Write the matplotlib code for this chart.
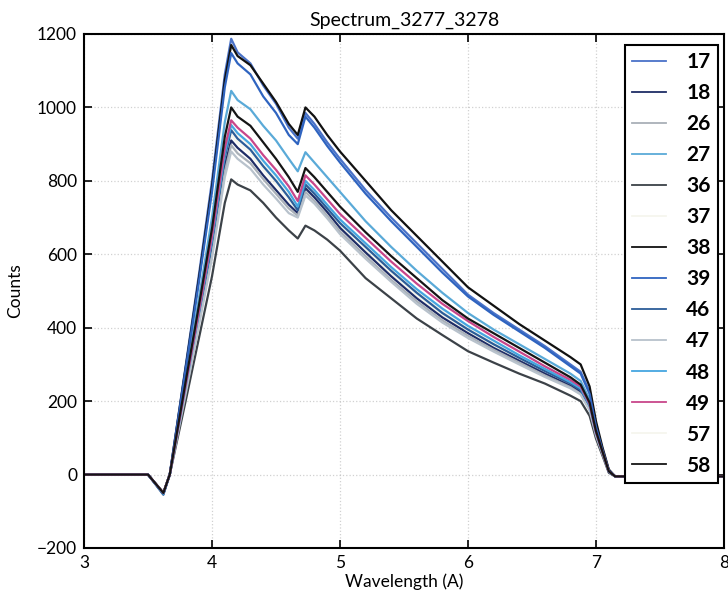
import matplotlib
matplotlib.use("Agg")
import matplotlib.pyplot as plt

plt.rcParams['font.family'] = ['Lato', 'DejaVu Sans']

title = "Spectrum_3277_3278"
x_label = "Wavelength (A)"
y_label = "Counts"

wavelength = [3.0, 3.5, 3.62, 3.67, 3.8, 3.9, 4.0, 4.1, 4.15, 4.2, 4.3, 4.4, 4.5, 4.6,
              4.67, 4.73, 4.8, 4.9, 5.0, 5.2, 5.4, 5.6, 5.8, 6.0, 6.2, 6.4, 6.6, 6.8,
              6.88, 6.95, 7.0, 7.05, 7.1, 7.15, 8.0]

labels = ["17", "18", "26", "27", "36", "37", "38", "39", "46", "47", "48", "49", "57", "58"]

s17 = [0, 0, -52, 0, 310, 550, 800, 1090, 1187, 1150, 1120, 1060, 1010, 945, 915, 985, 955, 905, 860,
       775, 700, 630, 560, 490, 440, 395, 350, 300, 280, 225, 135, 70, 12, -5, -5]
s18 = [0, 0, -52, 0, 240, 425, 610, 840, 910, 890, 860, 815, 775, 735, 712, 780, 755, 715, 672,
       605, 540, 480, 428, 385, 345, 310, 275, 242, 225, 180, 110, 60, 8, -5, -5]
s26 = [0, 0, -50, 0, 235, 418, 600, 825, 897, 875, 848, 805, 765, 725, 705, 770, 745, 705, 662,
       595, 530, 472, 420, 378, 340, 305, 270, 238, 220, 178, 108, 58, 8, -5, -5]
s27 = [0, 0, -50, 0, 275, 485, 700, 960, 1045, 1020, 995, 950, 910, 860, 826, 878, 850, 810, 770,
       690, 620, 555, 495, 440, 395, 355, 315, 275, 255, 205, 122, 65, 10, -5, -5]
s36 = [0, 0, -50, 0, 210, 375, 540, 740, 804, 790, 774, 740, 700, 665, 643, 678, 665, 640, 610,
       535, 480, 425, 380, 336, 305, 275, 248, 215, 200, 160, 98, 52, 5, -5, -5]
s37 = [0, 0, -50, 0, 250, 440, 635, 870, 945, 925, 895, 850, 810, 765, 725, 795, 770, 730, 690,
       625, 560, 500, 446, 400, 360, 322, 285, 250, 232, 186, 112, 60, 8, -5, -5]
s38 = [0, 0, -50, 0, 305, 540, 785, 1075, 1170, 1140, 1115, 1065, 1015, 955, 925, 1000, 975, 925, 880,
       800, 720, 650, 580, 510, 460, 410, 365, 320, 300, 240, 145, 75, 14, -5, -5]
s39 = [0, 0, -52, 0, 300, 530, 770, 1055, 1148, 1120, 1090, 1030, 985, 925, 900, 975, 945, 895, 850,
       765, 690, 620, 550, 485, 435, 390, 345, 295, 275, 220, 130, 68, 11, -5, -5]
s46 = [0, 0, -55, 0, 245, 440, 630, 865, 938, 915, 885, 840, 800, 755, 720, 790, 765, 725, 685,
       620, 555, 495, 440, 395, 355, 318, 282, 248, 230, 184, 111, 60, 8, -5, -5]
s47 = [0, 0, -50, 0, 230, 410, 590, 810, 880, 860, 833, 790, 752, 712, 700, 760, 738, 698, 655,
       588, 525, 465, 414, 372, 335, 300, 266, 235, 218, 175, 106, 57, 8, -5, -5]
s48 = [0, 0, -52, 0, 250, 445, 640, 875, 952, 930, 900, 855, 815, 770, 730, 800, 775, 735, 695,
       630, 565, 505, 452, 405, 365, 325, 288, 252, 235, 188, 113, 61, 8, -5, -5]
s49 = [0, 0, -50, 0, 255, 450, 650, 890, 965, 945, 915, 870, 830, 785, 745, 815, 790, 750, 710,
       645, 580, 520, 465, 418, 375, 335, 295, 258, 240, 192, 115, 62, 9, -5, -5]
s57 = [0, 0, -50, 0, 240, 430, 620, 850, 925, 905, 875, 830, 790, 748, 716, 785, 760, 720, 680,
       612, 548, 488, 435, 390, 350, 314, 279, 245, 228, 182, 110, 59, 8, -5, -5]
s58 = [0, 0, -50, 0, 265, 465, 670, 920, 1000, 975, 950, 905, 860, 810, 770, 835, 810, 770, 730,
       660, 595, 535, 475, 425, 385, 345, 305, 265, 245, 196, 118, 63, 9, -5, -5]

series = [s17, s18, s26, s27, s36, s37, s38, s39, s46, s47, s48, s49, s57, s58]
colors = ["#4a72c8", "#1f2d66", "#a9b0b8", "#5aaad8", "#3c4248", "#f6f6ee", "#111111",
          "#2f64c0", "#2c5d98", "#b8c2cc", "#45a6e0", "#c8468a", "#f6f6ee", "#151515"]

fig = plt.figure(figsize=(7.28, 5.9), dpi=100)
ax = fig.add_axes([84 / 728, 1 - 548 / 590, 640 / 728, 514 / 590])

for lab, ys, c in zip(labels, series, colors):
    z = 1 if c == "#f6f6ee" else 2
    ax.plot(wavelength, ys, color=c, lw=1.6, label=lab, zorder=z)

ax.set_xlim(3, 8)
ax.set_ylim(-200, 1200)
ax.set_xticks([3, 4, 5, 6, 7, 8])
ax.set_yticks([-200, 0, 200, 400, 600, 800, 1000, 1200])
ax.grid(True, linestyle=':', color='#999999', lw=0.9, alpha=0.45)
ax.tick_params(direction='in', top=True, right=True, length=6, width=1.2,
               labelsize=12.5, pad=5)
for sp in ax.spines.values():
    sp.set_linewidth(1.5)

ax.set_title(title, fontsize=14, pad=6)
ax.set_xlabel(x_label, fontsize=12.5, labelpad=2)
ax.set_ylabel(y_label, fontsize=12.5, labelpad=10)

leg = ax.legend(loc='upper right', bbox_to_anchor=(0.991, 0.979), borderaxespad=0,
                fancybox=False, framealpha=1, edgecolor='black',
                prop={'size': 15, 'weight': 'bold'}, labelspacing=0.53,
                handlelength=1.6, handletextpad=1.0, borderpad=0.35)
leg.get_frame().set_linewidth(1.5)
for line in leg.get_lines():
    line.set_linewidth(1.3)

fig.savefig("out.png", dpi=100)
